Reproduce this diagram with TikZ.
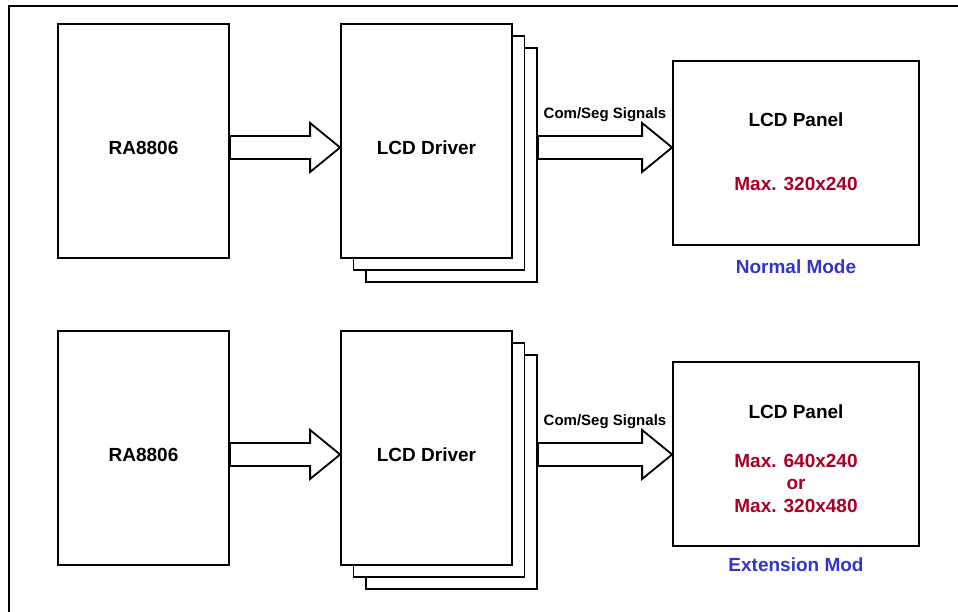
\documentclass[tikz,border=0pt]{standalone}
\usepackage{xcolor}
\usepackage{fontspec}
\setmainfont{Liberation Sans}
\usepackage{tikz}
\usetikzlibrary{calc,positioning}

\definecolor{maxred}{RGB}{166,0,38}
\definecolor{modeblue}{RGB}{52,52,204}

% hollow block arrow between two coordinates at the same height
\newcommand{\hollowarrow}[2]{%
  \draw[blockarr] ($(#1)+(0,11.5)$) -- ($(#2)+(-30,11.5)$) -- ($(#2)+(-30,24.5)$)
    -- (#2) -- ($(#2)+(-30,-24.5)$) -- ($(#2)+(-30,-11.5)$)
    -- ($(#1)+(0,-11.5)$) -- cycle;}

\begin{document}
\begin{tikzpicture}[
    x=1pt, y=1pt,
    chip/.style={
      draw=black, line width=1.8pt, fill=white,
      minimum width=171pt, minimum height=234pt,
      inner sep=0pt
    },
    panel/.style={
      draw=black, line width=1.8pt, fill=white,
      minimum width=246pt, minimum height=184pt,
      inner sep=0pt
    },
    lbl/.style={font=\bfseries\fontsize{19}{19}\selectfont, inner sep=0pt},
    sig/.style={font=\bfseries\fontsize{15}{15}\selectfont, inner sep=0pt},
    maxlbl/.style={lbl, text=maxred, align=center,
      font=\bfseries\fontsize{19}{22.5}\selectfont},
    modelbl/.style={lbl, text=modeblue},
    blockarr/.style={draw=black, line width=1.8pt, fill=white, line join=miter}
  ]

  \useasboundingbox (0,0) rectangle (958,612);

  % outer frame (cut by the page)
  \draw[line width=2.2pt] (9,-10) -- (9,606) -- (970,606);

  % Normal mode row
  \node[chip] (ra1) at (143.5,471) {};
  \node[chip] (drv1c) at (451.5,447) {};
  \node[chip] (drv1b) at (439,459) {};
  \node[chip] (drv1) at (426.5,471) {};
  \node[panel] (pnl1) at (796,459) {};

  \coordinate (a1s) at ($(ra1.east)+(0,-6.5)$);
  \coordinate (a1e) at (drv1.west |- a1s);
  \coordinate (a2s) at (drv1c.east |- a1s);
  \coordinate (a2e) at (pnl1.west |- a1s);

  \node[lbl] (ra1t) at (ra1 |- a1s) {RA8806};
  \node[lbl] (drv1t) at (drv1 |- a1s) {LCD Driver};
  \node[lbl] (pnl1t) at (796,492) {LCD Panel};
  \node[maxlbl] (max1) at (796,428) {Max. 320x240};
  \node[modelbl] (mode1) at (796,345) {Normal Mode};
  \node[sig] (sig1) at (605,497) {Com/Seg Signals};

  \hollowarrow{a1s}{a1e}
  \hollowarrow{a2s}{a2e}

  % Extension mode row
  \node[chip] (ra2) at (143.5,164) {};
  \node[chip] (drv2c) at (451.5,140) {};
  \node[chip] (drv2b) at (439,152) {};
  \node[chip] (drv2) at (426.5,164) {};
  \node[panel] (pnl2) at (796,158) {};

  \coordinate (b1s) at ($(ra2.east)+(0,-6.5)$);
  \coordinate (b1e) at (drv2.west |- b1s);
  \coordinate (b2s) at (drv2c.east |- b1s);
  \coordinate (b2e) at (pnl2.west |- b1s);

  \node[lbl] (ra2t) at (ra2 |- b1s) {RA8806};
  \node[lbl] (drv2t) at (drv2 |- b1s) {LCD Driver};
  \node[lbl] (pnl2t) at (796,200) {LCD Panel};
  \node[maxlbl] (max2) at (796,129) {Max. 640x240\\or\\Max. 320x480};
  \node[modelbl] (mode2) at (796,47) {Extension Mod};
  \node[sig] (sig2) at (605,190) {Com/Seg Signals};

  \hollowarrow{b1s}{b1e}
  \hollowarrow{b2s}{b2e}

\end{tikzpicture}
\end{document}
